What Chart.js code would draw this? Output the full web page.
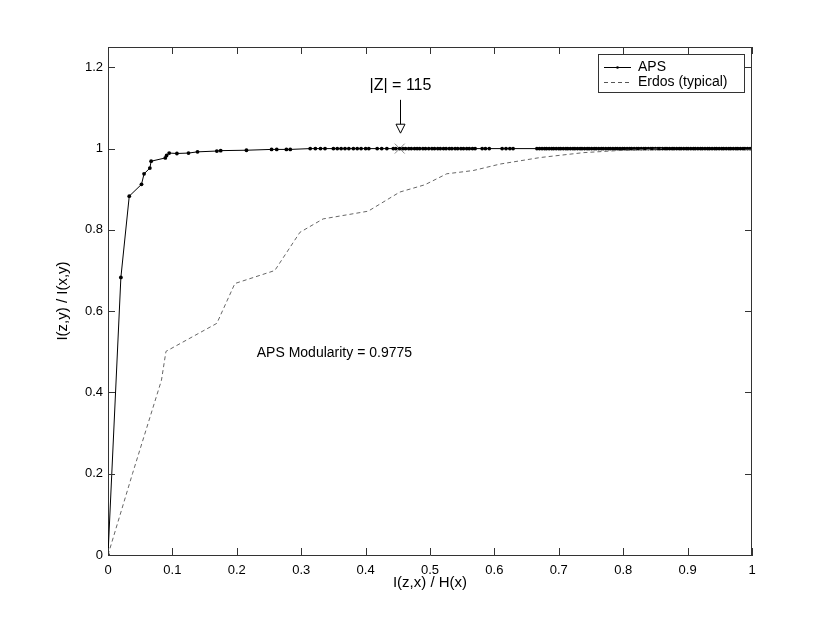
<!DOCTYPE html>
<html>
<head>
<meta charset="utf-8">
<script src="https://cdn.jsdelivr.net/npm/chart.js@4/dist/chart.umd.min.js"></script>
<style>
  html, body { margin: 0; padding: 0; background: #fff; }
  #wrap { width: 830px; height: 623px; }
</style>
</head>
<body>
<div id="wrap"><canvas id="chart" width="830" height="623"></canvas></div>
<script>
// APS curve
const apsX = [0, 0.020, 0.033, 0.052, 0.056, 0.065, 0.067, 0.089, 0.091, 0.095, 0.107, 0.125, 0.139, 0.169, 0.175,
  0.215, 0.254, 0.262, 0.277, 0.283, 0.314, 0.322, 0.330, 0.337, 0.350, 0.356, 0.362, 0.368, 0.374, 0.381, 0.387,
  0.393, 0.400, 0.405, 0.418, 0.425, 0.433, 0.443, 0.447, 0.453, 0.458, 0.462, 0.467, 0.471, 0.476, 0.480, 0.484,
  0.489, 0.493, 0.498, 0.503, 0.507, 0.512, 0.516, 0.521, 0.525, 0.530, 0.534, 0.539, 0.543, 0.548, 0.552, 0.557,
  0.561, 0.566, 0.570, 0.581, 0.586, 0.592, 0.612, 0.618, 0.624, 0.629, 0.666, 0.670, 0.674, 0.678, 0.681, 0.685,
  0.689, 0.692, 0.696, 0.700, 0.703, 0.707, 0.711, 0.714, 0.718, 0.722, 0.725, 0.729, 0.733, 0.736, 0.740, 0.744,
  0.747, 0.751, 0.755, 0.758, 0.762, 0.766, 0.769, 0.773, 0.777, 0.780, 0.784, 0.788, 0.791, 0.795, 0.799, 0.802,
  0.806, 0.810, 0.813, 0.817, 0.821, 0.824, 0.828, 0.832, 0.835, 0.839, 0.843, 0.846, 0.850, 0.854, 0.857, 0.861,
  0.865, 0.868, 0.872, 0.876, 0.879, 0.883, 0.887, 0.890, 0.894, 0.898, 0.901, 0.905, 0.909, 0.912, 0.916, 0.920,
  0.923, 0.927, 0.931, 0.934, 0.938, 0.942, 0.945, 0.949, 0.953, 0.956, 0.960, 0.964, 0.967, 0.971, 0.975, 0.978,
  0.982, 0.986, 0.989, 0.993, 0.997, 1.000];
const apsYHead = [0, 0.683, 0.883, 0.912, 0.938, 0.952, 0.969, 0.977, 0.983, 0.989, 0.988, 0.989, 0.992, 0.994, 0.995,
  0.996, 0.998, 0.998, 0.998, 0.998];
// after x = 0.3 the APS curve sits on 1
const apsY = apsX.map((x, i) => i < apsYHead.length ? apsYHead[i] : 1);

// Erdos (typical) curve
const erdosX = [0, 0.038, 0.083, 0.090, 0.169, 0.197, 0.259, 0.298, 0.334, 0.404, 0.453, 0.492, 0.526, 0.567,
  0.609, 0.671, 0.738, 0.790, 0.842, 0.860];
const erdosY = [0, 0.20, 0.43, 0.501, 0.570, 0.668, 0.700, 0.794, 0.827, 0.846, 0.893, 0.911, 0.938, 0.946,
  0.962, 0.978, 0.990, 0.995, 0.998, 1.0];

// |Z| = 115 marker
const zMarkX = 0.453, zMarkY = 1.0;

const xTicks = [0, 0.1, 0.2, 0.3, 0.4, 0.5, 0.6, 0.7, 0.8, 0.9, 1];
const yTicks = [0, 0.2, 0.4, 0.6, 0.8, 1, 1.2];

const FONT = "'Liberation Sans', Arial, Helvetica, sans-serif";
const AXIS_COLOR = '#333';

function toPoints(xs, ys) { return xs.map((x, i) => ({x: x, y: ys[i]})); }

const decorPlugin = {
  id: 'decor',
  afterDraw(chart) {
    const ctx = chart.ctx, a = chart.chartArea;
    const xs = chart.scales.x, ys = chart.scales.y;
    ctx.save();
    // box top/right + inward ticks
    ctx.strokeStyle = AXIS_COLOR;
    ctx.lineWidth = 1;
    ctx.beginPath();
    ctx.moveTo(a.left, a.top + 0.5); ctx.lineTo(a.right, a.top + 0.5);
    ctx.moveTo(a.right - 0.5, a.top); ctx.lineTo(a.right - 0.5, a.bottom);
    xTicks.forEach(v => {
      const px = Math.round(xs.getPixelForValue(v)) + 0.5;
      ctx.moveTo(px, a.bottom); ctx.lineTo(px, a.bottom - 7);
      ctx.moveTo(px, a.top); ctx.lineTo(px, a.top + 7);
    });
    yTicks.forEach(v => {
      const py = Math.round(ys.getPixelForValue(v)) + 0.5;
      ctx.moveTo(a.left, py); ctx.lineTo(a.left + 7, py);
      ctx.moveTo(a.right, py); ctx.lineTo(a.right - 7, py);
    });
    ctx.stroke();

    // axis titles
    ctx.fillStyle = '#000';
    ctx.font = '15px ' + FONT;
    ctx.textAlign = 'center';
    ctx.textBaseline = 'middle';
    ctx.fillText('I(z,x) / H(x)', (a.left + a.right) / 2, 583);
    ctx.save();
    ctx.translate(63, (a.top + a.bottom) / 2);
    ctx.rotate(-Math.PI / 2);
    ctx.fillText('I(z,y) / I(x,y)', 0, 0);
    ctx.restore();

    // |Z| = 115 annotation with arrow
    const zx = Math.round(xs.getPixelForValue(zMarkX)) + 0.5;
    ctx.font = '16px ' + FONT;
    ctx.fillText('|Z| = 115', zx, ys.getPixelForValue(1.154));
    const yTop = ys.getPixelForValue(1.12), yHead = ys.getPixelForValue(1.06), yTip = ys.getPixelForValue(1.038);
    ctx.beginPath();
    ctx.moveTo(zx, yTop); ctx.lineTo(zx, yHead);
    ctx.moveTo(zx - 4.5, yHead); ctx.lineTo(zx + 4.5, yHead); ctx.lineTo(zx, yTip); ctx.closePath();
    ctx.strokeStyle = '#000';
    ctx.stroke();

    // modularity text
    ctx.textAlign = 'left';
    ctx.font = '14px ' + FONT;
    ctx.fillText('APS Modularity = 0.9775', xs.getPixelForValue(0.231), ys.getPixelForValue(0.496));

    // legend box
    const lx = 598.5, ly = 54.5, lw = 146, lh = 38;
    ctx.fillStyle = '#fff';
    ctx.fillRect(lx, ly, lw, lh);
    ctx.strokeStyle = '#333';
    ctx.strokeRect(lx, ly, lw, lh);
    ctx.beginPath();
    ctx.strokeStyle = '#000';
    ctx.moveTo(604, 67.5); ctx.lineTo(631, 67.5);
    ctx.stroke();
    ctx.fillStyle = '#000';
    ctx.beginPath(); ctx.arc(617.5, 67.5, 1.3, 0, Math.PI * 2); ctx.fill();
    ctx.beginPath();
    ctx.setLineDash([4, 3]);
    ctx.strokeStyle = '#555';
    ctx.moveTo(604, 82.5); ctx.lineTo(631, 82.5);
    ctx.stroke();
    ctx.setLineDash([]);
    ctx.fillStyle = '#000';
    ctx.font = '14px ' + FONT;
    ctx.fillText('APS', 638, 67);
    ctx.fillText('Erdos (typical)', 638, 82);
    ctx.restore();
  }
};

const tickFmt = v => String(+v.toFixed(2));

new Chart(document.getElementById('chart'), {
  type: 'scatter',
  data: {
    datasets: [
      {
        label: 'Erdos (typical)',
        data: toPoints(erdosX, erdosY),
        showLine: true,
        borderColor: '#666',
        borderWidth: 1,
        borderDash: [4, 3],
        pointRadius: 0,
        fill: false
      },
      {
        label: 'APS',
        data: toPoints(apsX, apsY),
        showLine: true,
        borderColor: '#000',
        backgroundColor: '#000',
        borderWidth: 1,
        pointRadius: 1.9,
        pointBorderWidth: 0,
        fill: false
      },
      {
        label: 'Z',
        data: [{x: zMarkX, y: zMarkY}],
        pointStyle: 'crossRot',
        pointRadius: 7,
        borderColor: '#888',
        borderWidth: 1
      }
    ]
  },
  options: {
    responsive: false,
    animation: false,
    events: [],
    layout: { padding: { left: 0, top: 47, right: 78, bottom: 0 } },
    plugins: { legend: { display: false }, tooltip: { enabled: false } },
    scales: {
      x: {
        type: 'linear', min: 0, max: 1,
        afterFit: s => { s.height = 68; },
        afterBuildTicks: s => { s.ticks = xTicks.map(v => ({value: v})); },
        grid: { display: false, drawTicks: false },
        border: { display: true, color: AXIS_COLOR, width: 1 },
        ticks: { padding: 8, color: '#000', font: { family: FONT, size: 13 }, callback: tickFmt, maxRotation: 0 }
      },
      y: {
        type: 'linear', min: 0, max: 1.25,
        afterFit: s => { s.width = 108; },
        afterBuildTicks: s => { s.ticks = yTicks.map(v => ({value: v})); },
        grid: { display: false, drawTicks: false },
        border: { display: true, color: AXIS_COLOR, width: 1 },
        ticks: { padding: 5, color: '#000', font: { family: FONT, size: 13 }, callback: tickFmt }
      }
    }
  },
  plugins: [decorPlugin]
});
</script>
</body>
</html>
